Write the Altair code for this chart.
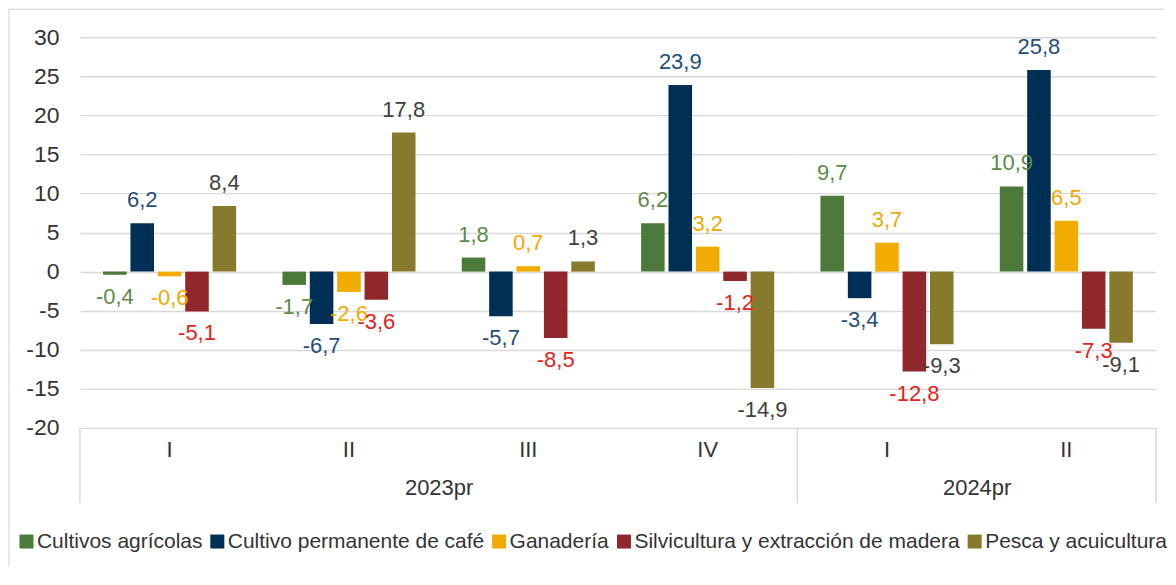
import altair as alt
import pandas as pd

series = [
    "Cultivos agrícolas",
    "Cultivo permanente de café",
    "Ganadería",
    "Silvicultura y extracción de madera",
    "Pesca y acuicultura",
]
years = ["2023pr", "2023pr", "2023pr", "2023pr", "2024pr", "2024pr"]
quarters = ["I", "II", "III", "IV", "I", "II"]

cultivos = [-0.4, -1.7, 1.8, 6.2, 9.7, 10.9]
cafe = [6.2, -6.7, -5.7, 23.9, -3.4, 25.8]
ganaderia = [-0.6, -2.6, 0.7, 3.2, 3.7, 6.5]
silvicultura = [-5.1, -3.6, -8.5, -1.2, -12.8, -7.3]
pesca = [8.4, 17.8, 1.3, -14.9, -9.3, -9.1]

bar_colors = ["#4B7A3A", "#002F56", "#F2AB00", "#8F272C", "#887A2C"]
label_colors = ["#5E8A4A", "#1F4E79", "#F2A900", "#E3231B", "#404040"]

FONT = "Liberation Sans"
GRID = "#D9D9D9"
H = 391
W1 = 718
W2 = 359

rows = []
for s, vals in zip(series, [cultivos, cafe, ganaderia, silvicultura, pesca]):
    for y, q, v in zip(years, quarters, vals):
        rows.append({"year": y, "quarter": q, "series": s, "value": v,
                     "label": f"{v:.1f}".replace(".", ",")})
df = pd.DataFrame(rows)


def panel(year, width, first):
    sub = df[df["year"] == year]
    qs = [q for y, q in zip(years, quarters) if y == year]
    x = alt.X("quarter:N", sort=qs,
              scale=alt.Scale(paddingInner=0.258, paddingOuter=0.129),
              axis=alt.Axis(title=year, labelAngle=0, ticks=False, domain=False,
                            labelFontSize=22, labelFont=FONT, labelColor="#333333",
                            labelPadding=12, titleFontSize=22, titleFont=FONT,
                            titleFontWeight="normal", titleColor="#333333",
                            titlePadding=17))
    xo = alt.XOffset("series:N", sort=series,
                     scale=alt.Scale(paddingInner=0.14, paddingOuter=0))
    if first:
        yax = alt.Axis(title=None, values=list(range(-20, 31, 5)), ticks=False,
                       domain=False, grid=True, gridColor=GRID, gridWidth=1.4,
                       labelFontSize=23, labelFont=FONT, labelColor="#333333",
                       labelPadding=21, labelExpr="'' + datum.value",
                       minExtent=66, maxExtent=66)
    else:
        yax = alt.Axis(title=None, values=list(range(-20, 31, 5)), ticks=False,
                       domain=False, grid=True, gridColor=GRID, gridWidth=1.4,
                       labels=False, minExtent=0, maxExtent=0)
    yenc = alt.Y("value:Q", scale=alt.Scale(domain=[-20, 30], nice=False), axis=yax)

    base = alt.Chart(sub)
    bars = base.mark_bar().encode(
        x=x, xOffset=xo, y=yenc,
        color=alt.Color("series:N", sort=series,
                        scale=alt.Scale(domain=series, range=bar_colors),
                        legend=alt.Legend(title=None, orient="none", legendX=-64,
                                          legendY=494, direction="horizontal",
                                          symbolType="square", symbolSize=196,
                                          symbolStrokeWidth=0, labelFontSize=21,
                                          labelFont=FONT, labelColor="#333333",
                                          labelOffset=0, columnPadding=4,
                                          labelLimit=400)),
    )
    fill = alt.Fill("series:N", scale=alt.Scale(domain=series, range=label_colors),
                    legend=None)
    pos = base.transform_filter("datum.value >= 0").mark_text(
        font=FONT, fontSize=22, baseline="middle", dy=-23).encode(
        x=x, xOffset=xo, y=yenc, text="label:N", fill=fill)
    neg = base.transform_filter("datum.value < 0").mark_text(
        font=FONT, fontSize=22, baseline="middle", dy=22).encode(
        x=x, xOffset=xo, y=yenc, text="label:N", fill=fill)

    one = alt.Data(values=[{"k": 1}])
    layers = [bars, pos, neg]
    layers.append(alt.Chart(one).mark_rule(color=GRID, strokeWidth=1.5).encode(
        x=alt.value(0), y=alt.value(H), y2=alt.value(466)))
    if not first:
        layers.append(alt.Chart(one).mark_rule(color=GRID, strokeWidth=1.5).encode(
            x=alt.value(width), y=alt.value(H), y2=alt.value(466)))
    else:
        layers.append(alt.Chart(one).mark_rule(color="#D0D0D0", strokeWidth=1).encode(
            x=alt.value(-71), y=alt.value(-28), y2=alt.value(530)))
        layers.append(alt.Chart(one).mark_rule(color="#D0D0D0", strokeWidth=1).encode(
            x=alt.value(-71), x2=alt.value(1085), y=alt.value(-28)))
    return alt.layer(*layers).properties(width=width, height=H)


chart = alt.hconcat(panel("2023pr", W1, True), panel("2024pr", W2, False),
                    spacing=0, bounds="flush").resolve_scale(
    x="independent", xOffset="independent", y="shared", color="shared", fill="shared"
).properties(padding=0, background="white").configure_view(stroke=None)

chart.save("out.html", embed_options={"renderer": "svg", "actions": False})
